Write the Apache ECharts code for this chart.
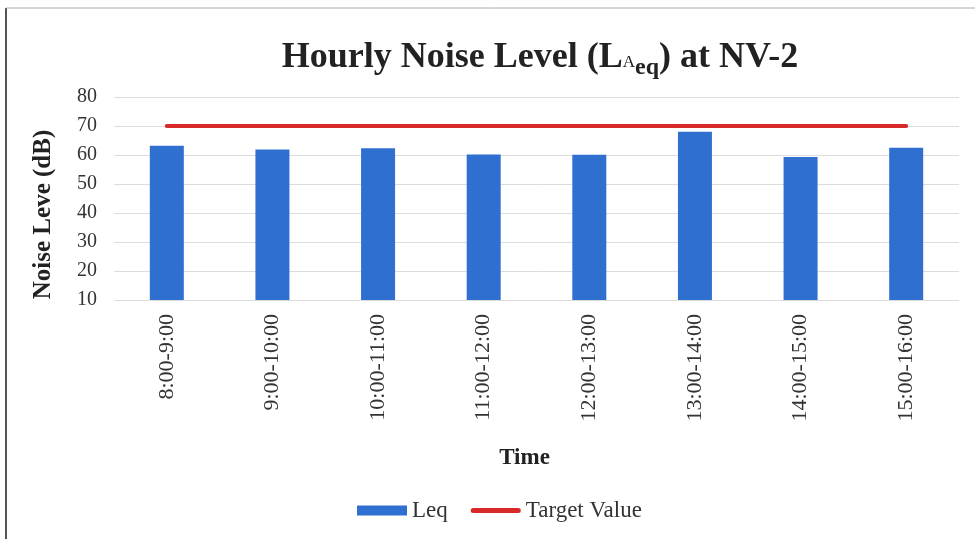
<!DOCTYPE html>
<html>
<head>
<meta charset="utf-8">
<script src="https://cdn.jsdelivr.net/npm/echarts@6/dist/echarts.min.js"></script>
<style>html,body{margin:0;padding:0;background:#fff}#c{width:975px;height:539px}</style>
</head>
<body>
<div id="c"></div>
<script>
const categories = ['8:00-9:00','9:00-10:00','10:00-11:00','11:00-12:00','12:00-13:00','13:00-14:00','14:00-15:00','15:00-16:00'];
const leqValues = [63.2, 61.9, 62.3, 60.2, 60.1, 68.0, 59.3, 62.5];
const targetValues = [70, 70, 70, 70, 70, 70, 70, 70];
const yTicks = {min: 10, max: 80, interval: 10};

const serif = '"Liberation Serif", "DejaVu Serif", serif';
const chart = echarts.init(document.getElementById('c'));
chart.setOption({
  animation: false,
  backgroundColor: '#fff',
  textStyle: {fontFamily: serif},
  graphic: [
    {type: 'line', shape: {x1: 6, y1: 8, x2: 6, y2: 539}, style: {stroke: '#555', lineWidth: 2}},
    {type: 'line', shape: {x1: 6, y1: 8, x2: 975, y2: 8}, style: {stroke: '#aaa', lineWidth: 1}}
  ],
  title: {
    text: 'Hourly Noise Level (L{a|A}{eq|eq}) at NV-2',
    left: 535, top: 30, textAlign: 'center',
    textStyle: {
      fontFamily: serif, fontSize: 36, fontWeight: 'bold', color: '#222',
      rich: {
        a: {fontFamily: serif, fontSize: 17, fontWeight: 'normal', color: '#222', verticalAlign: 'top', padding: [19,0,0,0]},
        eq: {fontFamily: serif, fontSize: 24, fontWeight: 'bold', color: '#222', verticalAlign: 'top', padding: [21,0,0,0]}
      }
    }
  },
  legend: {
    bottom: 12, left: 352,
    itemGap: 23,
    textStyle: {fontFamily: serif, fontSize: 23, color: '#333'},
    data: [
      {name: 'Leq', icon: 'rect', itemStyle: {color: '#2e6fd0'}},
      {name: 'Target Value', icon: 'path://M3,0 L57,0 A3,3 0 0 1 57,6 L3,6 A3,3 0 0 1 3,0 Z', itemStyle: {color: '#d7282a'}}
    ],
    itemWidth: 50, itemHeight: 10
  },
  grid: {left: 114, right: 16, top: 97, bottom: 239},
  xAxis: {
    type: 'category',
    data: categories,
    name: 'Time',
    nameLocation: 'middle',
    nameGap: 147,
    nameTextStyle: {fontFamily: serif, fontSize: 23, fontWeight: 'bold', color: '#222', padding: [0, 24, 0, 0]},
    axisLine: {show: false},
    axisTick: {show: false},
    axisLabel: {rotate: 90, fontFamily: serif, fontSize: 22, color: '#333', margin: 14}
  },
  yAxis: {
    type: 'value',
    min: yTicks.min, max: yTicks.max, interval: yTicks.interval,
    name: 'Noise Leve (dB)',
    nameLocation: 'middle',
    nameGap: 58,
    nameTextStyle: {fontFamily: serif, fontSize: 25, fontWeight: 'bold', color: '#222', padding: [0, 32, 0, 0]},
    axisLine: {show: false},
    axisTick: {show: false},
    axisLabel: {fontFamily: serif, fontSize: 20, color: '#333', margin: 17},
    splitLine: {lineStyle: {color: '#dcdcdc', width: 1}}
  },
  series: [
    {name: 'Leq', type: 'bar', data: leqValues, barWidth: 34, itemStyle: {color: '#2e6fd0'}},
    {name: 'Target Value', type: 'line', data: targetValues, symbol: 'none', lineStyle: {color: '#d7282a', width: 4, cap: 'round'}, itemStyle: {color: '#d7282a'}}
  ]
});
</script>
</body>
</html>
